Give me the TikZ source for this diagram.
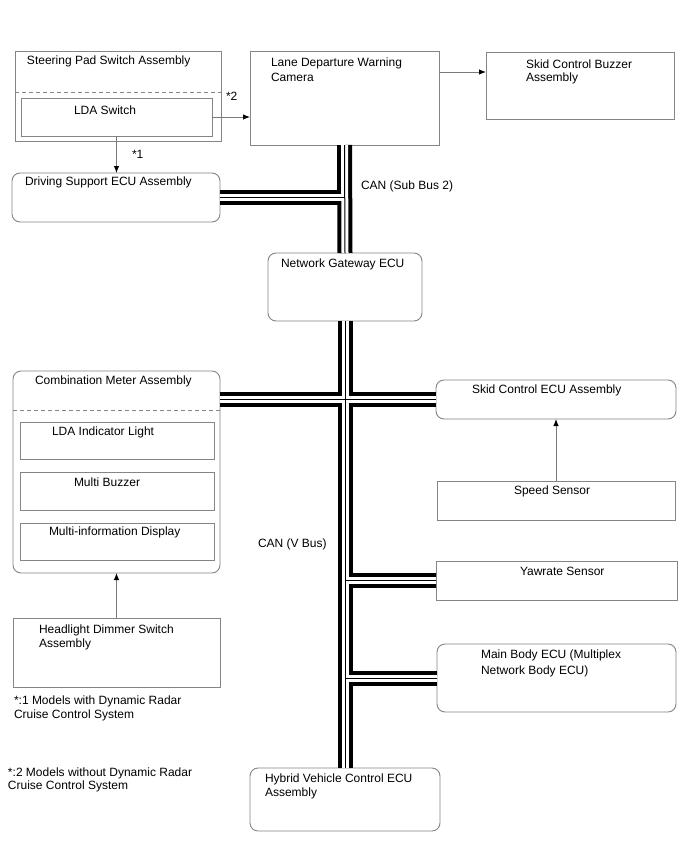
\documentclass[tikz,border=0pt]{standalone}
\usepackage{fontspec}
\setmainfont{Liberation Sans}
\usetikzlibrary{arrows.meta}
\definecolor{boxgray}{HTML}{858585}
\definecolor{arrgray}{HTML}{7A7A7A}
\begin{document}
\begin{tikzpicture}[x=1pt,y=-1pt,
  box/.style={draw=boxgray, line width=0.9pt, inner sep=0pt, outer sep=0pt, anchor=north west},
  rbox/.style={box, rounded corners=8pt},
  txt/.style={inner sep=0pt, outer sep=0pt, anchor=base west, font=\fontsize{12}{14}\selectfont},
  arr/.style={draw=arrgray, line width=0.9pt, -{Latex[length=7pt,width=5.5pt,black]}},
  divider/.style={draw=boxgray, line width=0.8pt, dash pattern=on 4pt off 3pt}
]
\useasboundingbox (0,0) rectangle (688,852);
\fill[white] (0,0) rectangle (688,852);

% ---- boxes ----
\node[box, minimum width=206pt, minimum height=90pt] (sp) at (15,51) {};
\node[box, minimum width=191pt, minimum height=38pt] (lda) at (21,98) {};
\node[rbox, minimum width=208pt, minimum height=49pt] (dse) at (12,173) {};
\node[box, minimum width=189pt, minimum height=94pt] (cam) at (250,51) {};
\node[box, minimum width=188pt, minimum height=67pt] (scb) at (486,52) {};
\node[rbox, minimum width=154pt, minimum height=68pt] (gw) at (268,253) {};
\node[rbox, minimum width=207pt, minimum height=202pt] (cma) at (13,371) {};
\node[box, minimum width=194pt, minimum height=37pt] (ldai) at (20,422) {};
\node[box, minimum width=194pt, minimum height=38pt] (mbz) at (20,472) {};
\node[box, minimum width=194pt, minimum height=37pt] (mid) at (20,523) {};
\node[box, minimum width=207pt, minimum height=69pt] (hds) at (13,618) {};
\node[rbox, minimum width=240pt, minimum height=39pt] (sce) at (436,380) {};
\node[box, minimum width=238pt, minimum height=39pt] (ss) at (437,481) {};
\node[box, minimum width=241pt, minimum height=39pt] (yaw) at (436,561) {};
\node[rbox, minimum width=239pt, minimum height=68pt] (mbe) at (437,644) {};
\node[rbox, minimum width=190pt, minimum height=63pt] (hv) at (250,768) {};

% ---- dashed dividers ----
\draw[divider] (15,92) -- (221,92);
\draw[divider] (13,410) -- (220,410);

% ---- CAN buses ----
\foreach \w/\c in {15/black, 7/white, 1/black} {
  \draw[line width=\w pt, \c] (cam.south) -- (gw.north);
  \draw[line width=\w pt, \c] (dse.east) -- (dse.east -| gw.north);
  \draw[line width=\w pt, \c] (gw.south) -- (hv.north);
  \draw[line width=\w pt, \c] (cma.east |- sce.west) -- (sce.west);
  \draw[line width=\w pt, \c] (yaw.west) -- (yaw.west -| gw.south);
  \draw[line width=\w pt, \c] (mbe.west) -- (mbe.west -| gw.south);
}

% ---- arrows ----
\draw[arr] (lda.east) -- (lda.east -| cam.west);
\path (cam.north east) ++(0,21) coordinate (ca);
\draw[arr] (ca) -- (ca -| scb.west);
\draw[arr] (lda.south) -- (lda.south |- dse.north);
\draw[arr] (hds.north) -- (hds.north |- cma.south);
\draw[arr] (ss.north) -- (ss.north |- sce.south);

% ---- texts ----
\node[txt] (t1) at (27,64.3) {Steering Pad Switch Assembly};
\node[txt] (t2) at (74,114.3) {LDA Switch};
\node[txt] (t3) at (25,185.3) {Driving Support ECU Assembly};
\node[txt] (t4a) at (271,66.3) {Lane Departure Warning};
\node[txt] (t4b) at (271,81.3) {Camera};
\node[txt] (t5a) at (526,68.3) {Skid Control Buzzer};
\node[txt] (t5b) at (526,81.8) {Assembly};
\node[txt] (l2) at (226,100.3) {*2};
\node[txt] (l1) at (132,158.3) {*1};
\node[txt] (t6) at (361,189.3) {CAN (Sub Bus 2)};
\node[txt] (t7) at (281,267.3) {Network Gateway ECU};
\node[txt] (t8) at (35,384.3) {Combination Meter Assembly};
\node[txt] (t9) at (52,435.3) {LDA Indicator Light};
\node[txt] (t10) at (74,486.3) {Multi Buzzer};
\node[txt] (t11) at (49,535.3) {Multi-information Display};
\node[txt] (t12) at (258,547.3) {CAN (V Bus)};
\node[txt] (t13a) at (39,633.3) {Headlight Dimmer Switch};
\node[txt] (t13b) at (39,647.3) {Assembly};
\node[txt] (n1a) at (14,704.3) {*:1 Models with Dynamic Radar};
\node[txt] (n1b) at (14,718.3) {Cruise Control System};
\node[txt] (n2a) at (8,776.3) {*:2 Models without Dynamic Radar};
\node[txt] (n2b) at (8,789.8) {Cruise Control System};
\node[txt] (t14) at (472,393.3) {Skid Control ECU Assembly};
\node[txt] (t15) at (514,494.3) {Speed Sensor};
\node[txt] (t16) at (520,575.3) {Yawrate Sensor};
\node[txt] (t17a) at (481,658.3) {Main Body ECU (Multiplex};
\node[txt] (t17b) at (481,674.3) {Network Body ECU)};
\node[txt] (t18a) at (265,782.3) {Hybrid Vehicle Control ECU};
\node[txt] (t18b) at (265,796.3) {Assembly};
\end{tikzpicture}
\end{document}
